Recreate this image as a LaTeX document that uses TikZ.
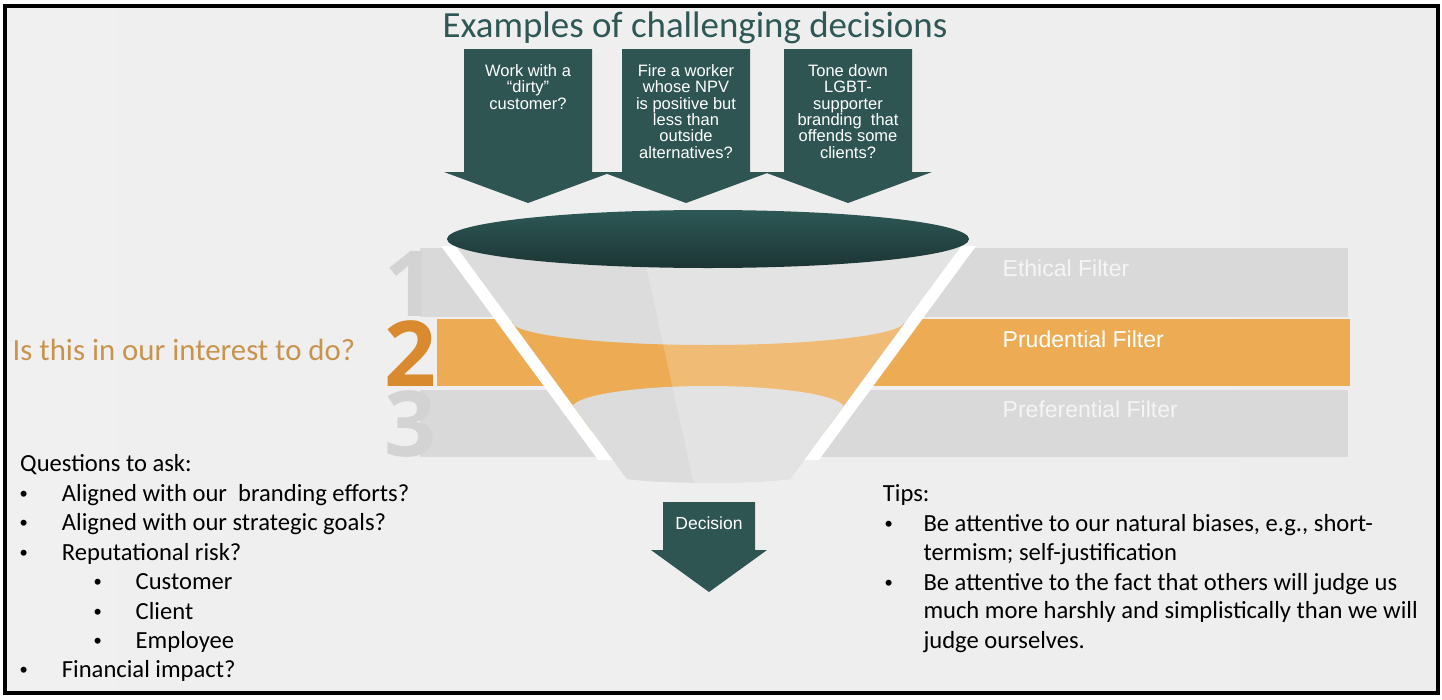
\documentclass[tikz,border=0pt]{standalone}
\usepackage{fontspec}
\setmainfont{Carlito}
\newfontfamily\arialf{Liberation Sans}
\newfontfamily\digitf{Open Sans}
\usetikzlibrary{calc}
\definecolor{tealdk}{HTML}{2F5553}
\definecolor{tealtitle}{HTML}{2E5856}
\definecolor{ellTop}{HTML}{2D5856}
\definecolor{ellBot}{HTML}{1C3534}
\definecolor{bandgray}{HTML}{D9D9D9}
\definecolor{digitgray}{HTML}{D3D3D3}
\definecolor{bandorange}{HTML}{EDAC53}
\definecolor{orangelight}{HTML}{F3C382}
\definecolor{digitorange}{HTML}{D98A2E}
\definecolor{questorange}{HTML}{C8944D}
\definecolor{bodygray}{HTML}{DCDCDC}
\definecolor{bodylight}{HTML}{E4E4E4}
\begin{document}
\begin{tikzpicture}[x=1pt,y=-1pt,
  arrowtxt/.style={font=\arialf\fontsize{16.5}{16.46}\selectfont, text=white, align=center, inner sep=0pt, anchor=north},
  listtxt/.style={font=\fontsize{24.6}{29}\selectfont, anchor=base west, inner sep=0pt},
  bullettxt/.style={font=\arialf\fontsize{22}{24}\selectfont, anchor=base west, inner sep=0pt},
  filtertxt/.style={font=\arialf\fontsize{23}{27}\selectfont, text=white, anchor=base west, inner sep=0pt},
  digit/.style={font=\digitf\bfseries\fontsize{91}{91}\selectfont, anchor=base west, inner sep=0pt},
  darrow/.style={fill=tealdk}]
\useasboundingbox (0,0) rectangle (1442,699);
\fill[white] (0,0) rectangle (1442,699);
\shade[left color=black!6, middle color=black!1.5, right color=black!7] (7,8) rectangle (1436,691);

% bands
\fill[bandgray] (420,248) rectangle (1348,317);
\fill[bandorange] (437,319) rectangle (1350,386);
\fill[bandgray] (420,390) rectangle (1348,457);
\node[digit, text=digitgray] (d1) at (384,316) {1};
\node[digit, text=digitorange] (d2) at (384,386) {2};
\node[digit, text=digitgray] (d3) at (384,456) {3};

% funnel
\coordinate (fl) at (450,238);
\coordinate (fr) at (967,238);
\coordinate (bl) at (627,479);
\coordinate (br) at (790,479);
\begin{scope}
  \clip (400,246) rectangle (1360,459);
  \draw[white, line width=24pt] ($(fl)!-0.1!(bl)$) -- ($(fl)!1.05!(bl)$);
  \draw[white, line width=24pt] ($(fr)!-0.1!(br)$) -- ($(fr)!1.05!(br)$);
\end{scope}
\begin{scope}
  \clip (fl) -- (bl) .. controls (670,484) and (747,484) .. (br) -- (fr) -- cycle;
  \fill[bodygray] (440,200) rectangle (980,500);
  \shade[left color=bandorange, middle color=orangelight, right color=bandorange]
    (512,322) arc[start angle=180, end angle=0, x radius=196, y radius=23] -- (904,430) -- (512,430) -- cycle;
  \shade[left color=bodygray, middle color=bodylight, right color=bodygray]
    (572,408) arc[start angle=180, end angle=360, x radius=136, y radius=22] -- (844,500) -- (572,500) -- cycle;
  \fill[white, opacity=0.2] (640,238) -- (967,238) -- (790,490) -- (695,490) -- cycle;
\end{scope}
\shade[top color=ellTop, bottom color=ellBot] (708,239) ellipse[x radius=261, y radius=29];

% title
\node[font=\fontsize{36.9}{42}\selectfont, text=tealtitle, inner sep=0pt, anchor=base] (title) at (695,37.5) {Examples of challenging decisions};

% top arrows
\foreach \cx in {528,686,848}
  \fill[darrow] (\cx-64,49) -- (\cx+64,49) -- (\cx+64,172) -- (\cx+84,172) -- (\cx,203) -- (\cx-84,172) -- (\cx-64,172) -- cycle;
\node[arrowtxt] (a1) at (528,64) {Work with a\\“dirty”\\customer?};
\node[arrowtxt] (a2) at (686,64) {Fire a worker\\whose NPV\\is positive but\\less than\\outside\\alternatives?};
\node[arrowtxt] (a3) at (848,64) {Tone down\\LGBT-\\supporter\\branding\ \ that\\offends some\\clients?};

% decision arrow
\fill[darrow] (663,502) -- (755,502) -- (755,550) -- (767,550) -- (709,592) -- (651,550) -- (663,550) -- cycle;
\node[font=\arialf\fontsize{17.5}{20}\selectfont, text=white, anchor=base, inner sep=0pt] (dec) at (709,529.5) {Decision};

% filter labels
\node[filtertxt, text=white!96!black] (f1) at (1002.5,276.5) {Ethical Filter};
\node[filtertxt] (f2) at (1002.5,347.3) {Prudential Filter};
\node[filtertxt, text=white!96!black] (f3) at (1002.5,417.3) {Preferential Filter};

% left question
\node[font=\fontsize{30.8}{36}\selectfont, text=questorange, anchor=base west, inner sep=0pt] (q) at (12.5,360) {Is this in our interest to do?};

% questions list
\node[listtxt] (ql0) at (20,471.7) {Questions to ask:};
\node[bullettxt] (qb1) at (19.6,501.7) {•};
\node[listtxt] (ql1) at (61.7,501.7) {Aligned with our\ \ branding efforts?};
\node[bullettxt] (qb2) at (19.6,530.5) {•};
\node[listtxt] (ql2) at (61.7,530.5) {Aligned with our strategic goals?};
\node[bullettxt] (qb3) at (19.6,560) {•};
\node[listtxt] (ql3) at (61.7,560) {Reputational risk?};
\node[bullettxt] (qb4) at (93.6,589.5) {•};
\node[listtxt] (ql4) at (135.5,589.5) {Customer};
\node[bullettxt] (qb5) at (93.6,619) {•};
\node[listtxt] (ql5) at (135.5,619) {Client};
\node[bullettxt] (qb6) at (93.6,648.5) {•};
\node[listtxt] (ql6) at (135.5,648.5) {Employee};
\node[bullettxt] (qb7) at (19.6,677.5) {•};
\node[listtxt] (ql7) at (61.7,677.5) {Financial impact?};

% tips
\node[listtxt] (t0) at (882.7,501.7) {Tips:};
\node[bullettxt] (tb1) at (884.6,531.7) {•};
\node[listtxt] (t1) at (923.3,531.7) {Be attentive to our natural biases, e.g., short-};
\node[listtxt] (t2) at (923.3,560.7) {termism; self-justification};
\node[bullettxt] (tb2) at (884.6,590) {•};
\node[listtxt] (t3) at (923.3,590) {Be attentive to the fact that others will judge us};
\node[listtxt] (t4) at (923.3,618.7) {much more harshly and simplistically than we will};
\node[listtxt] (t5) at (923.3,648.3) {judge ourselves.};

% frame
\draw[line width=4pt] (5.3,6) rectangle (1437.5,693);
\end{tikzpicture}
\end{document}
